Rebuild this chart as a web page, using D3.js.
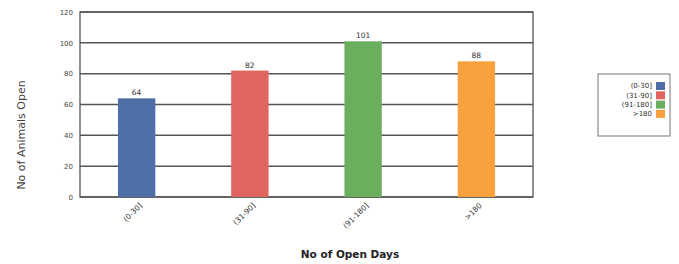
<!DOCTYPE html>
<html><head><meta charset="utf-8">
<script src="https://cdn.jsdelivr.net/npm/d3@7"></script>
<style>body{margin:0;background:#fff}svg{display:block}text{font-family:"DejaVu Sans",Verdana,sans-serif}</style>
</head><body><svg id="c" width="679" height="264"></svg>
<script>
const categories = ["(0-30]", "(31-90]", "(91-180]", ">180"];
const values = [64, 82, 101, 88];
const colors = ["#4f6fa8", "#e0655f", "#6aae5e", "#f9a03f"];
const yTicks = [0, 20, 40, 60, 80, 100, 120];

const svg = d3.select("#c");
const m = {l: 80, r: 533, t: 12, b: 197};
const x = d3.scaleBand().domain(categories).range([m.l, m.r]).paddingInner(0.67).paddingOuter(0.335);
const y = d3.scaleLinear().domain([0, 120]).range([m.b, m.t]);

// grid
svg.append("g").selectAll("line").data(yTicks).join("line")
  .attr("x1", m.l).attr("x2", m.r).attr("y1", d => y(d)).attr("y2", d => y(d))
  .attr("stroke", "#555").attr("stroke-width", 1.5);
// border
svg.append("rect").attr("x", m.l).attr("y", m.t).attr("width", m.r - m.l).attr("height", m.b - m.t)
  .attr("fill", "none").attr("stroke", "#555").attr("stroke-width", 1.3);

// bars
svg.append("g").selectAll("rect").data(values).join("rect")
  .attr("x", (d, i) => x(categories[i])).attr("width", x.bandwidth())
  .attr("y", d => y(d)).attr("height", d => y(0) - y(d))
  .attr("fill", (d, i) => colors[i]);

// value labels
svg.append("g").selectAll("text").data(values).join("text")
  .attr("x", (d, i) => x(categories[i]) + x.bandwidth() / 2).attr("y", d => y(d) - 3)
  .attr("text-anchor", "middle").attr("font-size", 7.5).attr("fill", "#333").text(d => d);

// y axis
const ya = svg.append("g").attr("transform", `translate(${m.l},0)`)
  .call(d3.axisLeft(y).tickValues(yTicks).tickSize(0).tickPadding(7));
ya.select(".domain").remove();
ya.selectAll("text").attr("font-size", 7).attr("fill", "#444").attr("font-family", '"DejaVu Sans",Verdana,sans-serif');

// x axis labels
const xa = svg.append("g").attr("transform", `translate(0,${m.b})`)
  .call(d3.axisBottom(x).tickSize(0).tickPadding(0));
xa.select(".domain").remove();
xa.selectAll("text").attr("font-size", 7.5).attr("fill", "#333").attr("font-family", '"DejaVu Sans",Verdana,sans-serif')
  .attr("text-anchor", "end").attr("dy", null).attr("y", 0)
  .attr("transform", "translate(6,9) rotate(-45)");

// titles
svg.append("text").attr("transform", "translate(25,135) rotate(-90)").attr("text-anchor", "middle")
  .attr("font-size", 11).attr("fill", "#444").text("No of Animals Open");
svg.append("text").attr("x", 350).attr("y", 258).attr("text-anchor", "middle")
  .attr("font-size", 10.5).attr("font-weight", "bold").attr("fill", "#222").text("No of Open Days");

// legend
const lg = svg.append("g");
lg.append("rect").attr("x", 598).attr("y", 74).attr("width", 72).attr("height", 62)
  .attr("fill", "#fff").attr("stroke", "#777").attr("stroke-width", 1);
const li = lg.selectAll("g").data(categories).join("g")
  .attr("transform", (d, i) => `translate(0,${86 + i * 9.3})`);
li.append("text").attr("x", 652).attr("y", 0).attr("dy", "0.35em").attr("text-anchor", "end")
  .attr("font-size", 7).attr("fill", "#333").text(d => d);
li.append("rect").attr("x", 656).attr("y", -4).attr("width", 9).attr("height", 8)
  .attr("fill", (d, i) => colors[i]);
</script></body></html>
